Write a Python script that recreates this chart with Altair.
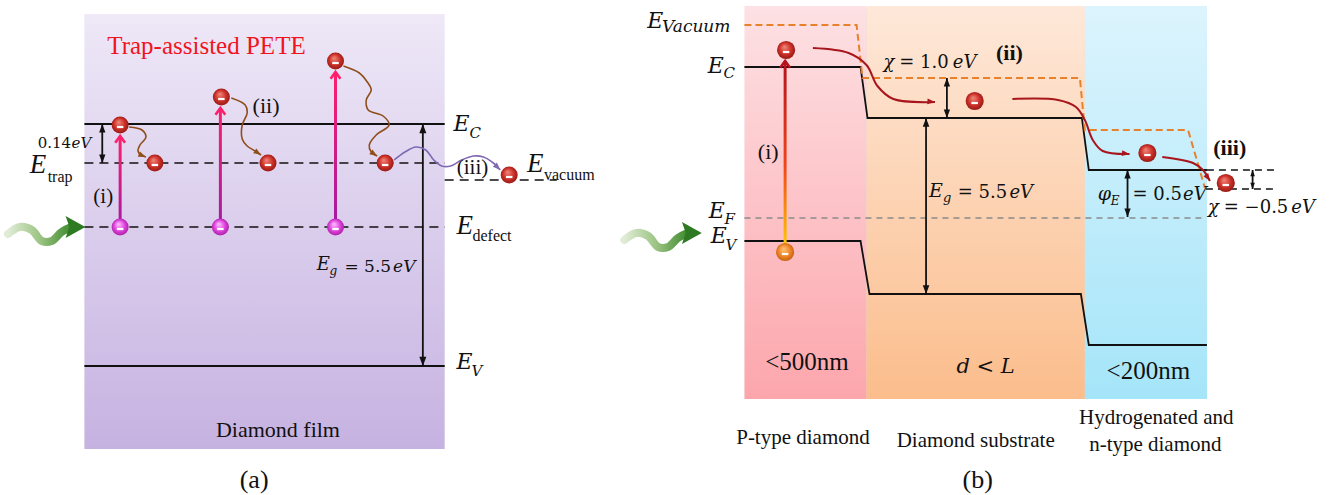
import math
import altair as alt
import pandas as pd

CANVAS_W, CANVAS_H = 1336, 495
SERIF = "'Liberation Serif', 'Times New Roman', Times, serif"
MATH = "'DejaVu Serif', serif"
INK = "#111111"
TITLE_RED = "#f0141e"

# ---------------- Panel (a): trap-assisted PETE in a diamond film ----------------
film_x = [80, 443]
film_y = [14, 449]

a_ec_line = [(80, 124), (443, 124)]
a_ev_line = [(80, 366), (443, 366)]
a_trap_line = [(80, 163), (443, 163)]
a_defect_line = [(80, 227), (443, 227)]
a_vacuum_line = [(443, 180), (556, 180)]

# electrons: excited, relaxed into the trap, emitted into vacuum
a_excited_x = [116, 218, 333]
a_excited_y = [125, 97, 61]
a_trapped_x = [151, 265, 383]
a_trapped_y = [163, 163, 163]
a_emitted = (508, 175)
a_defect_x = [116, 217, 333]
a_defect_y = 227
a_excite_tip = [136, 108, 72]

brown_1 = [(125, 127), (138, 130), (142, 137), (136, 145), (134, 151), (137, 155), (142, 157)]
brown_2 = [(228, 98), (242, 105), (244, 113), (239, 125), (239, 139), (244, 146), (252, 151), (258, 155)]
brown_3 = [(341, 66), (357, 73), (365, 82), (369, 90), (364, 100), (366, 110), (381, 116),
           (387, 125), (374, 135), (367, 145), (369, 152), (375, 156)]
purple_1 = [(392, 160), (403, 152), (414, 147), (424, 150), (432, 160), (440, 166), (449, 166),
            (460, 160), (472, 156), (482, 157), (492, 163), (499, 170)]

# ---------------- Panel (b): p-type / substrate / hydrogenated stack ----------------
region_name = ["p", "substrate", "n"]
region_x0 = [745, 868, 1088]
region_x1 = [868, 1088, 1211]
region_top, region_bottom = 6, 399
region_top_color = ["#fde1e4", "#fee8d9", "#dcf4fd"]
region_bottom_color = ["#fca6ac", "#fbbd8c", "#a5e5f9"]

b_ec_line = [(745, 67), (862, 67), (869, 118), (1085, 118), (1092, 170), (1211, 170)]
b_ev_line = [(745, 241), (862, 241), (871, 294), (1084, 294), (1092, 345), (1211, 345)]
b_vacuum_line = [(745, 25), (858, 25), (864, 78), (1083, 78), (1088, 130), (1192, 130), (1209, 188)]
b_fermi_line = [(745, 218), (1208, 218)]
b_out_upper = [(1211, 170), (1282, 170)]
b_out_lower = [(1210, 189), (1282, 189)]

b_electron_x = [787, 977, 1151, 1230]
b_electron_y = [50, 101, 153, 183]
b_hole = (786, 252)
b_excite_tip = 61

red_1 = [(814, 48), (850, 53), (868, 65), (879, 86), (895, 99), (937, 102)]
red_2 = [(1015, 99), (1061, 100), (1079, 107), (1088, 120), (1096, 140), (1106, 151), (1133, 154)]
red_3 = [(1166, 157), (1197, 163), (1207, 170), (1214, 181)]

# double-headed gap arrows: x, upper level, lower level
gap_x = [98, 421, 928, 949, 1131, 1257]
gap_top = [124, 124, 118, 78, 170, 170]
gap_bottom = [163, 366, 294, 118, 217, 189]
gap_head = [110, 136, 120, 110, 110, 60]

# incoming light (wavy green arrows), tips and shared wave outline
light_tip_x = [81, 702]
light_tip_y = [227, 233]
light_wave = [(-78, 7), (-66, 0), (-54, 3), (-44, 14), (-34, 14), (-24, 5), (-14, 0)]

# ---------------- text ----------------
# text, x, y, size, font, style, weight, color, align
labels = [
    ("Trap-assisted PETE", 203, 46, 25, SERIF, "normal", "normal", TITLE_RED, "center"),
    ("0.14", 33, 143, 15, MATH, "normal", "normal", INK, "left"),
    ("eV", 67, 143, 15, MATH, "italic", "normal", INK, "left"),
    ("E", 25, 165, 27, SERIF, "italic", "normal", INK, "left"),
    ("trap", 43, 177, 16, SERIF, "normal", "normal", INK, "left"),
    ("(i)", 99, 197, 21, SERIF, "normal", "normal", INK, "center"),
    ("(ii)", 263, 106, 22, SERIF, "normal", "normal", INK, "center"),
    ("(iii)", 471, 168, 21, SERIF, "normal", "normal", INK, "center"),
    ("E", 452, 124, 22, MATH, "italic", "normal", INK, "left"),
    ("C", 468, 133, 15, MATH, "italic", "normal", INK, "left"),
    ("E", 526, 164, 27, SERIF, "italic", "normal", INK, "left"),
    ("vacuum", 543, 175, 16, SERIF, "normal", "normal", INK, "left"),
    ("E", 455, 226, 27, SERIF, "italic", "normal", INK, "left"),
    ("defect", 471, 236, 16, SERIF, "normal", "normal", INK, "left"),
    ("E", 455, 362, 22, MATH, "italic", "normal", INK, "left"),
    ("V", 470, 371, 15, MATH, "italic", "normal", INK, "left"),
    ("E", 314, 265, 18, MATH, "italic", "normal", INK, "left"),
    ("g", 327, 271, 12, MATH, "italic", "normal", INK, "left"),
    ("= 5.5", 342, 267, 17, MATH, "normal", "normal", INK, "left"),
    ("eV", 391, 267, 17, MATH, "italic", "normal", INK, "left"),
    ("Diamond film", 275, 430, 22, SERIF, "normal", "normal", INK, "center"),
    ("(a)", 251, 480, 26, SERIF, "normal", "normal", INK, "center"),
    ("E", 647, 21, 22, MATH, "italic", "normal", INK, "left"),
    ("Vacuum", 662, 27, 17, MATH, "italic", "normal", INK, "left"),
    ("E", 708, 66, 22, MATH, "italic", "normal", INK, "left"),
    ("C", 724, 73, 15, MATH, "italic", "normal", INK, "left"),
    ("E", 709, 211, 22, MATH, "italic", "normal", INK, "left"),
    ("F", 725, 219, 15, MATH, "italic", "normal", INK, "left"),
    ("E", 711, 236, 22, MATH, "italic", "normal", INK, "left"),
    ("V", 726, 245, 15, MATH, "italic", "normal", INK, "left"),
    ("(i)", 769, 152, 22, SERIF, "normal", "normal", INK, "center"),
    ("χ", 885, 63, 18, MATH, "italic", "normal", INK, "left"),
    ("= 1.0", 901, 63, 18, MATH, "normal", "normal", INK, "left"),
    ("eV", 955, 63, 18, MATH, "italic", "normal", INK, "left"),
    ("(ii)", 1012, 53, 22, SERIF, "normal", "bold", INK, "center"),
    ("E", 931, 191, 19, MATH, "italic", "normal", INK, "left"),
    ("g", 945, 198, 13, MATH, "italic", "normal", INK, "left"),
    ("= 5.5", 960, 193, 18, MATH, "normal", "normal", INK, "left"),
    ("eV", 1012, 193, 18, MATH, "italic", "normal", INK, "left"),
    ("φ", 1101, 194, 19, MATH, "italic", "normal", INK, "left"),
    ("E", 1114, 201, 12, MATH, "italic", "normal", INK, "left"),
    ("= 0.5", 1136, 195, 18, MATH, "normal", "normal", INK, "left"),
    ("eV", 1187, 195, 18, MATH, "italic", "normal", INK, "left"),
    ("(iii)", 1234, 148, 22, SERIF, "normal", "bold", INK, "center"),
    ("χ", 1212, 208, 18, MATH, "italic", "normal", INK, "left"),
    ("= −0.5", 1228, 208, 18, MATH, "normal", "normal", INK, "left"),
    ("eV", 1296, 208, 18, MATH, "italic", "normal", INK, "left"),
    ("<500nm", 808, 362, 25, SERIF, "normal", "normal", INK, "center"),
    ("d < L", 988, 367, 21, MATH, "italic", "normal", INK, "center"),
    ("<200nm", 1152, 371, 25, SERIF, "normal", "normal", INK, "center"),
    ("P-type diamond", 804, 438, 21, SERIF, "normal", "normal", INK, "center"),
    ("Diamond substrate", 978, 441, 21, SERIF, "normal", "normal", INK, "center"),
    ("Hydrogenated and", 1160, 418, 21, SERIF, "normal", "normal", INK, "center"),
    ("n-type diamond", 1159, 445, 21, SERIF, "normal", "normal", INK, "center"),
    ("(b)", 980, 480, 26, SERIF, "normal", "normal", INK, "center"),
]

# ---------------- helpers ----------------
XS = alt.Scale(domain=[0, CANVAS_W], nice=False, zero=False)
YS = alt.Scale(domain=[0, CANVAS_H], nice=False, zero=False, reverse=True)


def ex(field="x"):
    return alt.X(f"{field}:Q", scale=XS, axis=None)


def ey(field="y"):
    return alt.Y(f"{field}:Q", scale=YS, axis=None)


def paths_frame(paths):
    rows = []
    for pid, pts in paths.items():
        for i, (x, y) in enumerate(pts):
            rows.append({"id": pid, "i": i, "x": x, "y": y})
    return pd.DataFrame(rows)


def path_layer(paths, **mark):
    return alt.Chart(paths_frame(paths)).mark_line(**mark).encode(
        x=ex(), y=ey(), detail="id:N", order="i:Q"
    )


def heading(p, q):
    return math.degrees(math.atan2(q[0] - p[0], -(q[1] - p[1])))


def vgrad(top, bottom):
    return {"gradient": "linear", "x1": 0, "x2": 0, "y1": 0, "y2": 1,
            "stops": [{"offset": 0, "color": top}, {"offset": 1, "color": bottom}]}


def ball(light, mid, dark):
    return {"gradient": "radial", "x1": 0.4, "y1": 0.32, "r1": 0.0,
            "x2": 0.5, "y2": 0.5, "r2": 0.56,
            "stops": [{"offset": 0, "color": light}, {"offset": 0.55, "color": mid},
                      {"offset": 1, "color": dark}]}


TRI = "M0,0L0.6,1.6L-0.6,1.6Z"
CHEVRON = "M-0.8,1.1L0,0L0.8,1.1"
BIG_HEAD = "M0,0L-1.8,-1L-1.45,0L-1.8,1Z"
MINUS = "M-1,0H1"

layers = []

# backgrounds
film = pd.DataFrame({"x": [film_x[0]], "x2": [film_x[1]], "y": [film_y[0]], "y2": [film_y[1]]})
layers.append(alt.Chart(film).mark_rect(fill=vgrad("#eee8f7", "#c6b2e1")).encode(
    x=ex(), x2="x2:Q", y=ey(), y2="y2:Q"))

stack = pd.DataFrame({"x": [region_x0[0]], "x2": [region_x1[-1]], "y": [region_top], "y2": [region_bottom]})
layers.append(alt.Chart(stack).mark_rect(color="#b8b8b8", opacity=0.5, xOffset=2, yOffset=3).encode(
    x=ex(), x2="x2:Q", y=ey(), y2="y2:Q"))
for name, x0, x1, ct, cb in zip(region_name, region_x0, region_x1, region_top_color, region_bottom_color):
    r = pd.DataFrame({"x": [x0], "x2": [x1], "y": [region_top], "y2": [region_bottom], "layer": [name]})
    layers.append(alt.Chart(r).mark_rect(fill=vgrad(ct, cb)).encode(
        x=ex(), x2="x2:Q", y=ey(), y2="y2:Q"))

# band edges and reference levels
layers.append(path_layer({"a_ec": a_ec_line, "a_ev": a_ev_line, "b_ec": b_ec_line, "b_ev": b_ev_line},
                         color="#111111", strokeWidth=1.8))
layers.append(path_layer({"trap": a_trap_line, "defect": a_defect_line, "vac": a_vacuum_line},
                         color="#111111", strokeWidth=1.6, strokeDash=[9, 6]))
layers.append(path_layer({"up": b_out_upper, "low": b_out_lower},
                         color="#111111", strokeWidth=1.4, strokeDash=[7, 5]))
layers.append(path_layer({"ef": b_fermi_line}, color="#8a8a8a", strokeWidth=1.6, strokeDash=[6, 5]))
layers.append(path_layer({"vac": b_vacuum_line}, color="#e8812c", strokeWidth=2, strokeDash=[7, 4]))

# double-headed gap arrows
gaps = pd.DataFrame({"x": gap_x, "y": gap_top, "y2": gap_bottom})
layers.append(alt.Chart(gaps).mark_rule(color="#111111", strokeWidth=1.8).encode(
    x=ex(), y=ey(), y2="y2:Q"))
gap_heads = pd.DataFrame({
    "x": gap_x + gap_x,
    "y": gap_top + gap_bottom,
    "angle": [0] * len(gap_x) + [180] * len(gap_x),
    "size": gap_head + gap_head,
})
layers.append(alt.Chart(gap_heads).mark_point(shape=TRI, filled=True, color="#111111", opacity=1).encode(
    x=ex(), y=ey(), angle=alt.Angle("angle:Q", scale=None), size=alt.Size("size:Q", scale=None)))

# photo-excitation arrows
exc_a = pd.DataFrame({"x": a_defect_x, "y": a_excite_tip, "y2": [a_defect_y] * 3})
layers.append(alt.Chart(exc_a).mark_bar(orient="vertical", size=3, fill=vgrad("#ff1f6b", "#a21aa4")).encode(
    x=ex(), y=ey(), y2="y2:Q"))
exc_b = pd.DataFrame({"x": [b_hole[0]], "y": [b_excite_tip], "y2": [b_hole[1]]})
layers.append(alt.Chart(exc_b).mark_bar(
    orient="vertical", size=3,
    fill={"gradient": "linear", "x1": 0, "x2": 0, "y1": 0, "y2": 1,
          "stops": [{"offset": 0, "color": "#b5121c"}, {"offset": 0.55, "color": "#f0461c"},
                    {"offset": 1, "color": "#ffd400"}]}).encode(x=ex(), y=ey(), y2="y2:Q"))
chev = pd.DataFrame({"x": a_defect_x + [b_hole[0]], "y": a_excite_tip + [b_excite_tip],
                     "color": ["#ff1f6b"] * 3 + ["#b5121c"]})
layers.append(alt.Chart(chev).mark_point(shape=CHEVRON, filled=False, strokeWidth=2.6, size=150, opacity=1).encode(
    x=ex(), y=ey(), color=alt.Color("color:N", scale=None)))

# relaxation / transport paths
curve_sets = [
    ({"b1": brown_1, "b2": brown_2, "b3": brown_3}, "#8f4f1c", 1.6),
    ({"p1": purple_1}, "#7f69b4", 1.6),
    ({"r1": red_1, "r2": red_2, "r3": red_3}, "#a8161d", 2.0),
]
head_rows = []
for paths, col, sw in curve_sets:
    layers.append(path_layer(paths, color=col, strokeWidth=sw, interpolate="catmull-rom"))
    for pts in paths.values():
        head_rows.append({"x": pts[-1][0], "y": pts[-1][1], "angle": heading(pts[-2], pts[-1]), "color": col})
layers.append(alt.Chart(pd.DataFrame(head_rows)).mark_point(shape=TRI, filled=True, size=90, opacity=1).encode(
    x=ex(), y=ey(), angle=alt.Angle("angle:Q", scale=None), color=alt.Color("color:N", scale=None)))

# incoming light
light_paths = {}
for k, (tx, ty) in enumerate(zip(light_tip_x, light_tip_y)):
    light_paths[f"light{k}"] = [(tx + dx, ty + dy) for dx, dy in light_wave]
layers.append(path_layer(
    light_paths, strokeWidth=8, strokeCap="round", interpolate="catmull-rom",
    stroke={"gradient": "linear", "x1": 0, "x2": 1, "y1": 0, "y2": 0,
            "stops": [{"offset": 0, "color": "#e0ecd6"}, {"offset": 0.5, "color": "#9cc483"},
                      {"offset": 1, "color": "#3d8a2d"}]}))
layers.append(alt.Chart(pd.DataFrame({"x": light_tip_x, "y": light_tip_y})).mark_point(
    shape=BIG_HEAD, filled=True, color="#2e7a22", size=484, opacity=1).encode(x=ex(), y=ey()))

# electrons
red_x = a_excited_x + a_trapped_x + [a_emitted[0]] + b_electron_x
red_y = a_excited_y + a_trapped_y + [a_emitted[1]] + b_electron_y
red_size = [290] * 7 + [330] * 4
electrons = pd.DataFrame({"x": red_x, "y": red_y, "size": red_size})
layers.append(alt.Chart(electrons).mark_circle(fill=ball("#f08a7c", "#cf332b", "#8c1410"), opacity=1).encode(
    x=ex(), y=ey(), size=alt.Size("size:Q", scale=None)))
defects = pd.DataFrame({"x": a_defect_x, "y": [a_defect_y] * 3})
layers.append(alt.Chart(defects).mark_circle(size=290, fill=ball("#ffc4ff", "#e048e0", "#a4169c"), opacity=1).encode(
    x=ex(), y=ey()))
hole = pd.DataFrame({"x": [b_hole[0]], "y": [b_hole[1]]})
layers.append(alt.Chart(hole).mark_circle(size=330, fill=ball("#ffc47a", "#f08a2c", "#c2580c"), opacity=1).encode(
    x=ex(), y=ey()))
charges = pd.DataFrame({"x": red_x + a_defect_x + [b_hole[0]],
                        "y": red_y + [a_defect_y] * 3 + [b_hole[1]]})
layers.append(alt.Chart(charges).mark_point(shape=MINUS, filled=False, color="white", strokeWidth=2.2,
                                            size=42, opacity=1, yOffset=2).encode(x=ex(), y=ey()))

# labels
lab = pd.DataFrame(labels, columns=["text", "x", "y", "size", "font", "style", "weight", "color", "align"])
for (font, style, weight, align), g in lab.groupby(["font", "style", "weight", "align"]):
    layers.append(alt.Chart(g).mark_text(font=font, fontStyle=style, fontWeight=weight,
                                         align=align, baseline="middle").encode(
        x=ex(), y=ey(), text="text:N",
        size=alt.Size("size:Q", scale=None), color=alt.Color("color:N", scale=None)))

chart = alt.layer(*layers).properties(
    width=CANVAS_W, height=CANVAS_H, padding=0, autosize="none", background="white"
).configure_view(stroke=None)

chart.save("out.html", embed_options={"renderer": "svg", "actions": False})
